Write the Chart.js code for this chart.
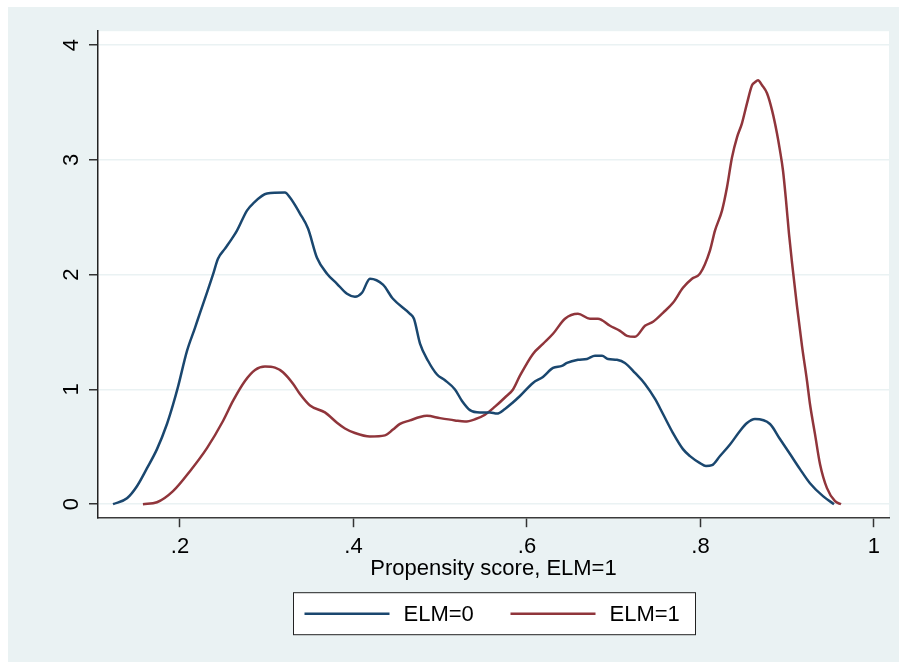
<!DOCTYPE html>
<html>
<head>
<meta charset="utf-8">
<script src="https://cdn.jsdelivr.net/npm/chart.js@4/dist/chart.umd.min.js"></script>
<style>
  html, body { margin: 0; padding: 0; background: #ffffff; width: 899px; height: 662px; overflow: hidden; }
  #frame { position: absolute; left: 8px; top: 7px; width: 891px; height: 655px; background: #EAF2F3; }
  canvas { display: block; }
</style>
</head>
<body>
<div id="frame"><canvas id="chart" width="891" height="655"></canvas></div>
<script>
// Kernel density of the propensity score, by ELM group
const seriesNames = ['ELM=0', 'ELM=1'];

const elm0X = [0.1228, 0.1389, 0.1504, 0.162, 0.1735, 0.185, 0.1919, 0.1977, 0.2081, 0.2173,
  0.2231, 0.2311, 0.238, 0.2438, 0.2519, 0.2599, 0.2657, 0.2772, 0.2842, 0.3003,
  0.321, 0.3268, 0.3383, 0.3476, 0.3579, 0.3695, 0.381, 0.3925, 0.4017, 0.4098,
  0.419, 0.434, 0.4455, 0.4651, 0.4697, 0.4767, 0.4859, 0.4963, 0.5055, 0.517,
  0.5251, 0.5343, 0.5458, 0.5574, 0.5654, 0.5746, 0.5827, 0.5919, 0.6069, 0.6184,
  0.63, 0.6403, 0.6461, 0.6588, 0.6692, 0.6784, 0.6865, 0.6934, 0.7037, 0.7129,
  0.7245, 0.736, 0.7476, 0.7568, 0.7683, 0.7798, 0.7879, 0.7994, 0.8063, 0.8133,
  0.8225, 0.834, 0.8455, 0.8536, 0.8628, 0.8801, 0.8916, 0.9032, 0.9147, 0.9262,
  0.9412, 0.9539];
const elm0Y = [0, 0.052, 0.157, 0.314, 0.48, 0.699, 0.865, 1.022, 1.336, 1.537,
  1.668, 1.843, 2.0, 2.14, 2.227, 2.314, 2.384, 2.559, 2.62, 2.707,
  2.716, 2.672, 2.533, 2.402, 2.148, 2.009, 1.921, 1.834, 1.808, 1.843,
  1.965, 1.913, 1.79, 1.659, 1.616, 1.4, 1.25, 1.13, 1.08, 1.0,
  0.9, 0.82, 0.8, 0.8, 0.79, 0.83, 0.88, 0.943, 1.057, 1.109,
  1.188, 1.205, 1.231, 1.258, 1.266, 1.293, 1.293, 1.266, 1.258, 1.231,
  1.144, 1.048, 0.917, 0.786, 0.62, 0.48, 0.419, 0.358, 0.332, 0.34,
  0.42, 0.52, 0.638, 0.707, 0.742, 0.699, 0.568, 0.437, 0.306, 0.183,
  0.07, 0];

const elm1X = [0.1573, 0.1735, 0.192, 0.2115, 0.2311, 0.2496, 0.2611, 0.2749, 0.2865, 0.298,
  0.3095, 0.3187, 0.3303, 0.3383, 0.3499, 0.3671, 0.381, 0.3902, 0.4017, 0.419,
  0.4363, 0.4455, 0.4536, 0.4651, 0.4767, 0.4847, 0.4997, 0.517, 0.5285, 0.54,
  0.5516, 0.5631, 0.5746, 0.5839, 0.5919, 0.6069, 0.6184, 0.63, 0.6438, 0.6588,
  0.6726, 0.6818, 0.6957, 0.7072, 0.7153, 0.7245, 0.736, 0.7453, 0.7568, 0.7683,
  0.7798, 0.7902, 0.7994, 0.8109, 0.8167, 0.8248, 0.8305, 0.8363, 0.8421, 0.8478,
  0.8536, 0.8594, 0.8628, 0.8663, 0.871, 0.8767, 0.8825, 0.8882, 0.8916, 0.8951,
  0.8986, 0.902, 0.9055, 0.9112, 0.917, 0.9228, 0.9262, 0.932, 0.9378, 0.9458,
  0.9551, 0.962];
const elm1Y = [0, 0.017, 0.114, 0.288, 0.489, 0.725, 0.9, 1.074, 1.17, 1.2,
  1.19, 1.15, 1.05, 0.96, 0.86, 0.8, 0.71, 0.66, 0.62, 0.59,
  0.6, 0.65, 0.7, 0.73, 0.76, 0.77, 0.75, 0.73, 0.72, 0.74,
  0.78, 0.85, 0.93, 1.0, 1.12, 1.31, 1.397, 1.485, 1.616, 1.659,
  1.616, 1.616, 1.555, 1.511, 1.467, 1.459, 1.555, 1.59, 1.668, 1.755,
  1.886, 1.965, 2.009, 2.21, 2.384, 2.559, 2.76, 3.022, 3.197, 3.319,
  3.493, 3.651, 3.677, 3.694, 3.651, 3.581, 3.432, 3.231, 3.083, 2.908,
  2.646, 2.358, 2.105, 1.729, 1.38, 1.074, 0.873, 0.611, 0.349, 0.14,
  0.026, 0];

const xTickValues = [0.2, 0.4, 0.6, 0.8, 1];
const xTickLabels = ['.2', '.4', '.6', '.8', '1'];
const yTickValues = [0, 1, 2, 3, 4];
const yTickLabels = ['0', '1', '2', '3', '4'];
const xTitle = 'Propensity score, ELM=1';

const seriesColors = ['#1A476F', '#90353B'];
const FONT = "'Liberation Sans', Arial, sans-serif";

function toPoints(xs, ys) {
  return xs.map((x, i) => ({ x: x, y: ys[i] }));
}

// White plot region behind the curves
const plotBackground = {
  id: 'plotBackground',
  beforeDraw(chart) {
    const { ctx, chartArea: a } = chart;
    ctx.save();
    ctx.fillStyle = '#ffffff';
    ctx.fillRect(a.left, a.top, a.right - a.left, a.bottom - a.top);
    ctx.restore();
  }
};

// Boxed legend under the axis title
const boxedLegend = {
  id: 'boxedLegend',
  afterDraw(chart) {
    const { ctx, chartArea: a } = chart;
    const cx = (a.left + a.right) / 2;
    const boxW = 402, boxH = 42;
    const left = Math.round(cx - boxW / 2) + 0.5;
    const top = a.bottom + 74.5;
    ctx.save();
    ctx.fillStyle = '#ffffff';
    ctx.fillRect(left, top, boxW, boxH);
    ctx.strokeStyle = '#222222';
    ctx.lineWidth = 1;
    ctx.strokeRect(left, top, boxW, boxH);
    const midY = top + boxH / 2;
    const offsets = [11, 217];
    chart.data.datasets.forEach((ds, i) => {
      const x0 = left + offsets[i];
      ctx.strokeStyle = ds.borderColor;
      ctx.lineWidth = 2.5;
      ctx.beginPath();
      ctx.moveTo(x0, midY);
      ctx.lineTo(x0 + 85, midY);
      ctx.stroke();
      ctx.fillStyle = '#000000';
      ctx.font = '22px ' + FONT;
      ctx.textAlign = 'left';
      ctx.textBaseline = 'middle';
      ctx.fillText(ds.label, x0 + 99, midY + 1);
    });
    ctx.restore();
  }
};

new Chart(document.getElementById('chart'), {
  type: 'line',
  data: {
    datasets: [
      { label: seriesNames[0], data: toPoints(elm0X, elm0Y), borderColor: seriesColors[0] },
      { label: seriesNames[1], data: toPoints(elm1X, elm1Y), borderColor: seriesColors[1] }
    ]
  },
  options: {
    responsive: false,
    animation: false,
    devicePixelRatio: 1,
    layout: { padding: { left: 8, right: 10, top: 24, bottom: 68 } },
    elements: {
      point: { radius: 0, hoverRadius: 0 },
      line: { borderWidth: 2.5, cubicInterpolationMode: 'monotone', fill: false }
    },
    plugins: {
      legend: { display: false },
      tooltip: { enabled: false }
    },
    scales: {
      x: {
        type: 'linear',
        min: 0.1055,
        max: 1.0173,
        afterBuildTicks(scale) { scale.ticks = xTickValues.map(v => ({ value: v })); },
        ticks: {
          autoSkip: false,
          maxRotation: 0,
          padding: 7,
          color: '#000000',
          font: { family: FONT, size: 22 },
          callback: (v) => xTickLabels[xTickValues.indexOf(v)]
        },
        grid: { drawOnChartArea: false, drawTicks: true, tickLength: 9, tickColor: '#333333', tickWidth: 1.5 },
        border: { display: true, color: '#3a3a3a', width: 1.5 },
        title: {
          display: true,
          text: xTitle,
          color: '#000000',
          font: { family: FONT, size: 22 },
          padding: { top: -12, bottom: 12 }
        }
      },
      y: {
        type: 'linear',
        min: -0.122,
        max: 4.122,
        afterBuildTicks(scale) { scale.ticks = yTickValues.map(v => ({ value: v })); },
        afterFit(scale) { scale.width = 82; },
        ticks: {
          minRotation: 90,
          maxRotation: 90,
          crossAlign: 'center',
          padding: 11,
          color: '#000000',
          font: { family: FONT, size: 22 },
          callback: (v) => yTickLabels[yTickValues.indexOf(v)]
        },
        grid: { color: '#EAF2F3', lineWidth: 1.5, drawTicks: true, tickLength: 9, tickColor: '#333333', tickWidth: 1.5 },
        border: { display: true, color: '#222222', width: 1.5 }
      }
    }
  },
  plugins: [plotBackground, boxedLegend]
});
</script>
</body>
</html>
